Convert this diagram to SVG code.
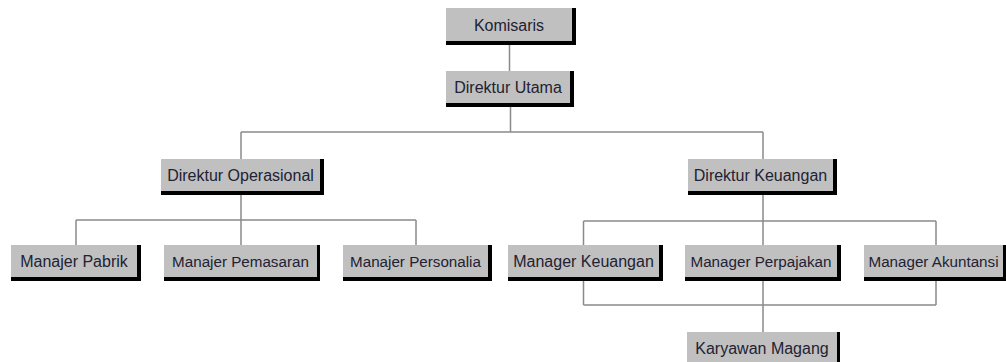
<svg xmlns="http://www.w3.org/2000/svg" width="1006" height="362" viewBox="0 0 1006 362">
<style>
.sh{fill:#000}
.bx{fill:#c0c0c0}
.t{font-family:"Liberation Sans",Arial,sans-serif;font-size:16px;fill:#222233;text-anchor:middle}
.s{font-size:15.2px}
.c{fill:none;stroke:#8a8a8a;stroke-width:1.5}
</style>
<rect width="1006" height="362" fill="#fff"/>
<g id="connectors">
<path class="c" d="M509.5 42V71"/>
<path class="c" d="M510.5 104V132M241 132H763M241 132V159M763 132V159"/>
<path class="c" d="M241 191V220M76 220H416M76 220V245M241 220V245M416 220V245"/>
<path class="c" d="M763 191V221M583.5 221H936M583.5 221V245M763 221V245M936 221V245"/>
<path class="c" d="M583.5 277V305M936 277V305M583.5 305H936M763 277V332"/>
</g>
<g id="komisaris"><rect class="sh" x="446" y="8" width="130" height="37"/><rect class="bx" x="446" y="8" width="126" height="33"/><text class="t" x="509" y="30.5">Komisaris</text></g>
<g id="direktur-utama"><rect class="sh" x="446" y="71" width="128" height="36"/><rect class="bx" x="446" y="71" width="124" height="32"/><text class="t" x="508" y="93">Direktur Utama</text></g>
<g id="direktur-operasional"><rect class="sh" x="161" y="159" width="163" height="36"/><rect class="bx" x="161" y="159" width="159" height="32"/><text class="t" x="240.5" y="181">Direktur Operasional</text></g>
<g id="direktur-keuangan"><rect class="sh" x="688" y="159" width="149" height="36"/><rect class="bx" x="688" y="159" width="145" height="32"/><text class="t" x="760.5" y="181">Direktur Keuangan</text></g>
<g id="manajer-pabrik"><rect class="sh" x="11" y="245" width="130" height="36"/><rect class="bx" x="11" y="245" width="126" height="32"/><text class="t" x="74" y="267">Manajer Pabrik</text></g>
<g id="manajer-pemasaran"><rect class="sh" x="164" y="245" width="156" height="36"/><rect class="bx" x="164" y="245" width="153" height="32"/><text class="t s" x="240.5" y="267">Manajer Pemasaran</text></g>
<g id="manajer-personalia"><rect class="sh" x="343" y="245" width="149" height="36"/><rect class="bx" x="343" y="245" width="145" height="32"/><text class="t s" x="415.5" y="267">Manajer Personalia</text></g>
<g id="manager-keuangan"><rect class="sh" x="508" y="245" width="155" height="36"/><rect class="bx" x="508" y="245" width="151" height="32"/><text class="t" x="583.5" y="267">Manager Keuangan</text></g>
<g id="manager-perpajakan"><rect class="sh" x="685" y="245" width="156" height="36"/><rect class="bx" x="685" y="245" width="152" height="32"/><text class="t s" x="761" y="267">Manager Perpajakan</text></g>
<g id="manager-akuntansi"><rect class="sh" x="864" y="245" width="142" height="36"/><rect class="bx" x="864" y="245" width="139" height="32"/><text class="t s" x="933.5" y="267">Manager Akuntansi</text></g>
<g id="karyawan-magang"><rect class="sh" x="687" y="332" width="153" height="36"/><rect class="bx" x="687" y="332" width="150" height="32"/><text class="t" x="762" y="354">Karyawan Magang</text></g>
</svg>
